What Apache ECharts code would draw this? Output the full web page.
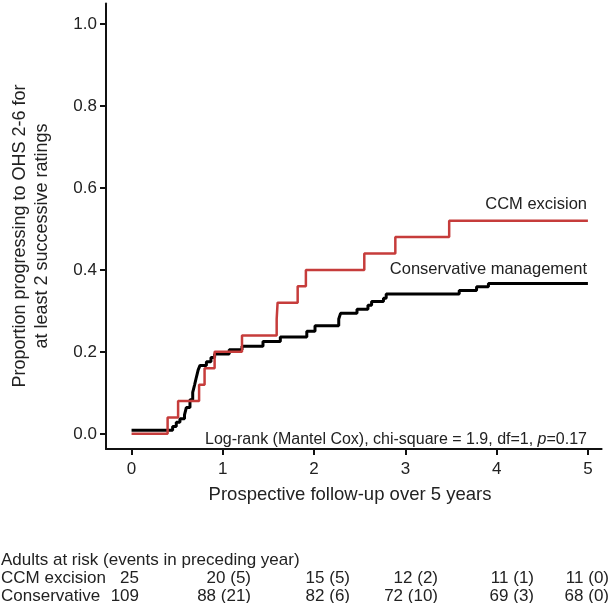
<!DOCTYPE html>
<html>
<head>
<meta charset="utf-8">
<script src="https://cdn.jsdelivr.net/npm/echarts@6/dist/echarts.min.js"></script>
<style>
html,body{margin:0;padding:0;background:#fff;}
#chart{width:615px;height:603px;}
</style>
</head>
<body>
<div id="chart"></div>
<script>
// Kaplan-Meier style step data: [years, cumulative proportion]
var ccmTimes  = [0, 0.395, 0.51, 0.74, 0.80, 0.91, 1.21, 1.59, 1.60, 1.82, 1.91, 2.55, 2.89, 3.48, 5.0];
var ccmValues = [0, 0.04, 0.08, 0.12, 0.16, 0.20, 0.24, 0.28, 0.32, 0.36, 0.40, 0.44, 0.48, 0.52, 0.52];

var consTimes  = [0, 0.45, 0.49, 0.53, 0.58, 0.60, 0.64, 0.67, 0.69, 0.71, 0.73, 0.75, 0.82, 0.87, 0.91, 1.07, 1.21, 1.44, 1.63, 1.92, 2.01, 2.27, 2.29, 2.47, 2.59, 2.63, 2.76, 2.79, 3.59, 3.78, 3.91, 5.0];
var consValues = [0.009, 0.018, 0.028, 0.037, 0.046, 0.064, 0.083, 0.101, 0.119, 0.138, 0.156, 0.167, 0.176, 0.186, 0.195, 0.205, 0.214, 0.225, 0.236, 0.250, 0.264, 0.280, 0.294, 0.304, 0.314, 0.323, 0.331, 0.341, 0.350, 0.359, 0.367, 0.367];

var xTicks = [0, 1, 2, 3, 4, 5];
var yTicks = [0, 0.2, 0.4, 0.6, 0.8, 1.0];

var seriesNames = ['CCM excision', 'Conservative management'];
var riskTitle = 'Adults at risk (events in preceding year)';
var riskRowLabels = ['CCM excision', 'Conservative'];
var riskCCM  = ['25', '20 (5)', '15 (5)', '12 (2)', '11 (1)', '11 (0)'];
var riskCons = ['109', '88 (21)', '82 (6)', '72 (10)', '69 (3)', '68 (0)'];

var yTitle = 'Proportion progressing to OHS 2-6 for\nat least 2 successive ratings';
var xTitle = 'Prospective follow-up over 5 years';
var statText = 'Log-rank (Mantel Cox), chi-square = 1.9, df=1, ';

function pairs(t, v){ return t.map(function(x,i){ return [x, v[i]]; }); }

var FONT = "'Liberation Sans', Arial, Helvetica, sans-serif";
var TXT = '#222';

var chart = echarts.init(document.getElementById('chart'), null, {renderer:'canvas'});

var riskCols = [139, 251, 350, 438, 534, 609];
var graphics = [];
graphics.push({type:'text', x:31, y:236, rotation:Math.PI/2,
  style:{text:yTitle, font:'18px '+FONT, fill:TXT, align:'center', verticalAlign:'middle', lineHeight:22}});
graphics.push({type:'text', x:350, y:495,
  style:{text:xTitle, font:'18.5px '+FONT, fill:TXT, align:'center', verticalAlign:'middle'}});
graphics.push({type:'text', x:1, y:560,
  style:{text:riskTitle, font:'17px '+FONT, fill:TXT, align:'left', verticalAlign:'middle'}});
graphics.push({type:'text', x:1, y:578,
  style:{text:riskRowLabels[0], font:'17px '+FONT, fill:TXT, align:'left', verticalAlign:'middle'}});
graphics.push({type:'text', x:1, y:596,
  style:{text:riskRowLabels[1], font:'17px '+FONT, fill:TXT, align:'left', verticalAlign:'middle'}});
riskCCM.forEach(function(s,i){
  graphics.push({type:'text', x:riskCols[i], y:578,
    style:{text:s, font:'17px '+FONT, fill:TXT, align:'right', verticalAlign:'middle'}});
});
riskCons.forEach(function(s,i){
  graphics.push({type:'text', x:riskCols[i], y:596,
    style:{text:s, font:'17px '+FONT, fill:TXT, align:'right', verticalAlign:'middle'}});
});

var option = {
  animation:false,
  backgroundColor:'#fff',
  grid:{left:106, right:13.4, top:3.5, bottom:154, containLabel:false},
  xAxis:{
    type:'value', min:-0.28, max:5.15,
    axisLine:{show:true, onZero:false, lineStyle:{color:'#111', width:2}},
    axisTick:{show:true, length:6, customValues:xTicks, lineStyle:{color:'#111', width:2}},
    axisLabel:{customValues:xTicks, margin:12, fontSize:17, fontFamily:FONT, color:TXT},
    splitLine:{show:false}
  },
  yAxis:{
    type:'value', min:-0.037, max:1.05,
    axisLine:{show:true, onZero:false, lineStyle:{color:'#111', width:2}},
    axisTick:{show:true, length:6, customValues:yTicks, lineStyle:{color:'#111', width:2}},
    axisLabel:{customValues:yTicks, margin:9, fontSize:17, fontFamily:FONT, color:TXT,
      formatter:function(v){ return v.toFixed(1); }},
    splitLine:{show:false}
  },
  series:[
    {name:seriesNames[1], type:'line', step:'end', symbol:'none',
     data:pairs(consTimes, consValues), lineStyle:{color:'#000', width:3}, z:2},
    {name:seriesNames[0], type:'line', step:'end', symbol:'none',
     data:pairs(ccmTimes, ccmValues), lineStyle:{color:'#c63c3b', width:2.5}, z:3}
  ],
  graphic:graphics.concat([
    {type:'text', x:587, y:204, style:{text:seriesNames[0], font:'16.5px '+FONT, fill:TXT, align:'right', verticalAlign:'middle'}},
    {type:'text', x:587, y:269, style:{text:seriesNames[1], font:'16.5px '+FONT, fill:TXT, align:'right', verticalAlign:'middle'}},
    {type:'text', x:587, y:440, style:{
      text:'{n|'+statText+'}{i|p}{n|=0.17}', align:'right', verticalAlign:'middle',
      rich:{n:{font:'16px '+FONT, fill:TXT}, i:{font:'italic 16px '+FONT, fill:TXT}}}}
  ])
};
chart.setOption(option);
</script>
</body>
</html>
